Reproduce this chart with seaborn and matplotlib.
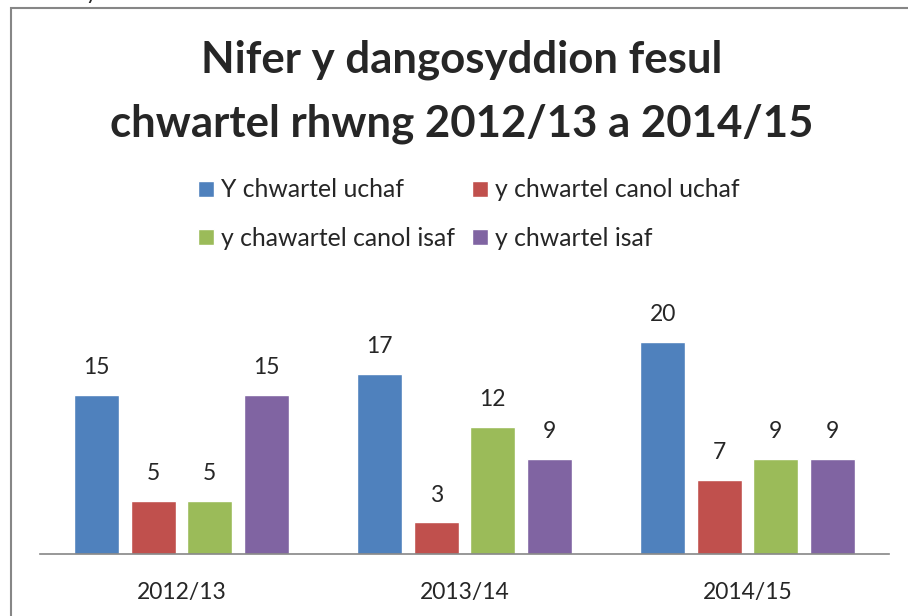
import pandas as pd
import seaborn as sns
import matplotlib.pyplot as plt
from matplotlib.patches import Rectangle

# === DANE ===
years = ["2012/13", "2013/14", "2014/15"]
series_names = ["Y chwartel uchaf", "y chwartel canol uchaf",
                "y chawartel canol isaf", "y chwartel isaf"]
uchaf = [15, 17, 20]
canol_uchaf = [5, 3, 7]
canol_isaf = [5, 12, 9]
isaf = [15, 9, 9]
colors = ["#4F81BD", "#C0504D", "#9BBB59", "#8064A2"]

rows = []
for name, vals in zip(series_names, [uchaf, canol_uchaf, canol_isaf, isaf]):
    for yr, v in zip(years, vals):
        rows.append({"Blwyddyn": yr, "Chwartel": name, "Nifer": v})
df = pd.DataFrame(rows)

sns.set_style("white")
plt.rcParams["font.family"] = ["Lato", "DejaVu Sans"]

W, H = 908, 616
fig = plt.figure(figsize=(W / 100, H / 100), dpi=100)
ax = fig.add_axes([40 / W, 1 - 554 / H, (889 - 40) / W, (554 - 290) / H])

sns.barplot(data=df, x="Blwyddyn", y="Nifer", hue="Chwartel",
            order=years, hue_order=series_names, palette=colors,
            width=0.8, gap=0.2, saturation=1, ax=ax, legend=True)

for cont in ax.containers:
    ax.bar_label(cont, padding=12, fontsize=16.5)

ax.set_ylim(0, (554 - 290) / 10.6)
ax.set_xlim(-0.5, 2.5)
ax.set_xlabel("")
ax.set_ylabel("")
ax.set_yticks([])
ax.tick_params(axis="x", length=0, labelsize=16.5, pad=20)
for s in ["top", "right", "left"]:
    ax.spines[s].set_visible(False)
ax.spines["bottom"].set_color("#868686")
ax.spines["bottom"].set_linewidth(1.2)

# legenda wierszami (2 kolumny)
handles, labels = ax.get_legend_handles_labels()
ax.get_legend().remove()
idx = [0, 2, 1, 3]
fig.legend([handles[i] for i in idx], [labels[i] for i in idx],
           loc="center", bbox_to_anchor=(469 / W, 1 - 214 / H),
           ncol=2, frameon=False, fontsize=17.8, handlelength=0.62,
           handleheight=0.62, handletextpad=0.3, columnspacing=0.7,
           labelspacing=1.02)

fig.text(462 / W, 1 - 92 / H, "Nifer y dangosyddion fesul\nchwartel rhwng 2012/13 a 2014/15",
         ha="center", va="center", fontsize=31.5, fontweight="bold",
         linespacing=1.7)

# ramka wykresu
fig.patches.append(Rectangle((10.5 / W, -0.05), 1.2, 1 - 8.5 / H + 0.05,
                             transform=fig.transFigure, fill=False,
                             edgecolor="#868686", linewidth=1.5))
fig.text(0.02, 1.012, "Ofali Cymru.", fontsize=16, va="center", ha="left")

fig.savefig("out.png", dpi=100)
